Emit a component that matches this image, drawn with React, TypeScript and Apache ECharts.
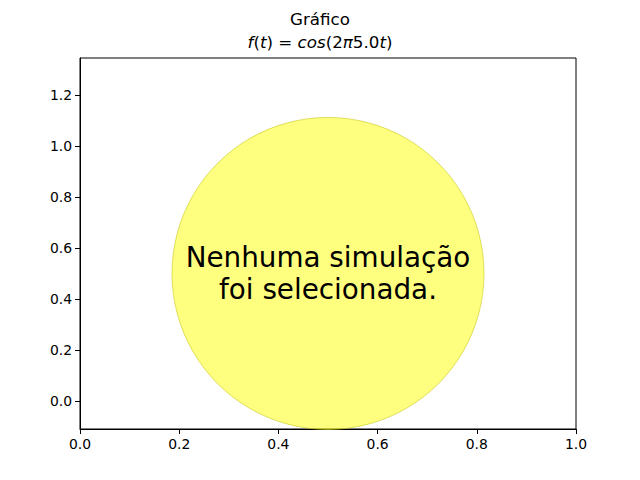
import React, { useEffect, useRef } from "react";
import * as echarts from "echarts";

const xTicks = [0, 0.2, 0.4, 0.6, 0.8, 1.0];
const yTicks = [0, 0.2, 0.4, 0.6, 0.8, 1.0, 1.2];
const xRange = [0, 1];
const yRange = [-0.11, 1.345];
const circleCenter = [[0.5, 0.5]];
const messageLines = ["Nenhuma simulação", "foi selecionada."];
const titleLine = "Gráfico";

const FONT = "DejaVu Sans";

export default function App() {
  const ref = useRef<HTMLDivElement>(null);
  useEffect(() => {
    if (!ref.current) return;
    const chart = echarts.init(ref.current, null, { renderer: "svg" });
    chart.setOption({
      animation: false,
      backgroundColor: "#ffffff",
      textStyle: { fontFamily: FONT },
      title: [
        {
          text: titleLine,
          left: "center",
          top: 5,
          textStyle: { fontFamily: FONT, fontSize: 16.7, fontWeight: "normal", color: "#000" },
        },
        {
          text:
            "{i|f}{n|(}{i|t}{n|) = }{i|cos}{n|(2}{i|π}{n|5.0}{i|t}{n|)}",
          left: "center",
          top: 28,
          textStyle: {
            fontFamily: FONT,
            fontSize: 16.7,
            fontWeight: "normal",
            color: "#000",
            rich: {
              i: { fontFamily: FONT, fontSize: 16.7, fontStyle: "italic", color: "#000" },
              n: { fontFamily: FONT, fontSize: 16.7, color: "#000" },
            },
          },
        },
      ],
      grid: {
        left: 80,
        top: 58,
        width: 496,
        height: 371,
        show: true,
        borderColor: "#000",
        borderWidth: 1,
        backgroundColor: "transparent",
      },
      xAxis: {
        type: "value",
        min: xRange[0],
        max: xRange[1],
        interval: 0.2,
        splitLine: { show: false },
        axisLine: { show: true, onZero: false, lineStyle: { color: "#000", width: 1 } },
        axisTick: { show: true, length: 5, customValues: xTicks, lineStyle: { color: "#000", width: 1 } },
        axisLabel: {
          color: "#000",
          fontFamily: FONT,
          fontSize: 13.9,
          margin: 8,
          customValues: xTicks,
          formatter: (v: number) => v.toFixed(1),
        },
      },
      yAxis: {
        type: "value",
        min: yRange[0],
        max: yRange[1],
        splitLine: { show: false },
        axisLine: { show: true, onZero: false, lineStyle: { color: "#000", width: 1 } },
        axisTick: {
          show: true,
          length: 5,
          customValues: yTicks,
          lineStyle: { color: "#000", width: 1 },
        },
        axisLabel: {
          color: "#000",
          fontFamily: FONT,
          fontSize: 13.9,
          margin: 8,
          customValues: yTicks,
          formatter: (v: number) => v.toFixed(1),
        },
      },
      series: [
        {
          type: "scatter",
          data: circleCenter,
          symbol: "circle",
          symbolSize: 312,
          itemStyle: {
            color: "rgba(255,255,0,0.5)",
            borderColor: "rgba(200,200,30,0.6)",
            borderWidth: 1,
            opacity: 1,
          },
          label: {
            show: true,
            position: "inside",
            formatter: messageLines.join("\n"),
            fontFamily: FONT,
            fontSize: 27.8,
            lineHeight: 32,
            color: "#000",
            align: "center",
          },
          emphasis: { disabled: true },
          z: 1,
        },
      ],
    });
    return () => chart.dispose();
  }, []);
  return (
    <div
      ref={ref}
      style={{ position: "absolute", left: 0, top: 0, width: 640, height: 480 }}
    />
  );
}
